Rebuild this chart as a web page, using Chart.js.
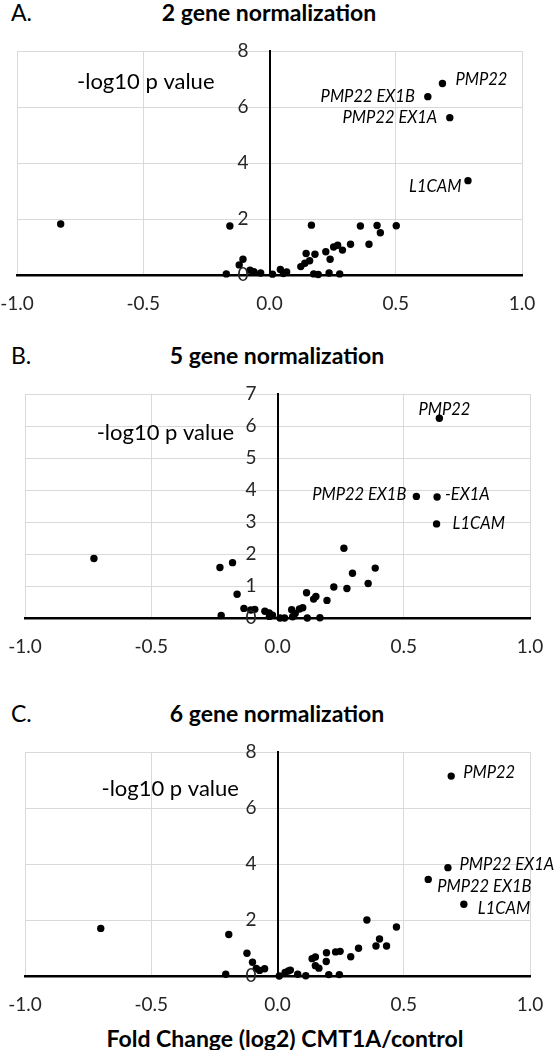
<!DOCTYPE html>
<html>
<head>
<meta charset="utf-8">
<script src="https://cdn.jsdelivr.net/npm/chart.js@4.4.1/dist/chart.umd.min.js"></script>
<style>
  html, body { margin: 0; padding: 0; background: #fff; }
  body { width: 557px; height: 1050px; position: relative; overflow: hidden; font-family: Lato, "Open Sans", sans-serif; }
  .lbl { position: absolute; color: #000; white-space: nowrap; }
  .letter { font-size: 23px; line-height: 28px; }
  .title { font-size: 23px; font-weight: bold; line-height: 28px; transform: translateX(-50%); }
  canvas { position: absolute; left: 0; }
</style>
</head>
<body>
<div class="lbl letter" style="left:11px; top:-2px;">A.</div>
<div class="lbl title" style="left:269px; top:-2px;">2 gene normalization</div>
<div class="lbl letter" style="left:11px; top:341px;">B.</div>
<div class="lbl title" style="left:277px; top:341px;">5 gene normalization</div>
<div class="lbl letter" style="left:11px; top:699px;">C.</div>
<div class="lbl title" style="left:277px; top:699px;">6 gene normalization</div>
<div class="lbl title" style="left:285px; top:1024px;">Fold Change (log2) CMT1A/control</div>

<canvas id="cA" width="557" height="300" style="top:30px"></canvas>
<canvas id="cB" width="557" height="300" style="top:370px"></canvas>
<canvas id="cC" width="557" height="290" style="top:730px"></canvas>

<script>
// ---------------- DATA ----------------
const xTicks = [-1.0, -0.5, 0.0, 0.5, 1.0];

// Panel A: 2 gene normalization
const aFold = [-0.827, -0.157, -0.105, -0.12, -0.171, -0.077, -0.062, -0.035, 0.012, 0.043, 0.055, 0.068,
  0.166, 0.124, 0.14, 0.159, 0.145, 0.18, 0.175, 0.193, 0.223, 0.24, 0.254, 0.27, 0.289, 0.236, 0.278,
  0.321, 0.36, 0.394, 0.426, 0.439, 0.502];
const aLogP = [1.82, 1.75, 0.56, 0.36, 0.04, 0.17, 0.12, 0.07, 0.03, 0.2, 0.05, 0.11,
  1.78, 0.3, 0.42, 0.51, 0.77, 0.74, 0.04, 0.02, 0.83, 0.56, 1.0, 1.06, 0.89, 0.07, 0.04,
  1.1, 1.75, 1.1, 1.77, 1.51, 1.76];
const aHitNames = ["PMP22", "PMP22 EX1B", "PMP22 EX1A", "L1CAM"];
const aHitFold = [0.685, 0.627, 0.714, 0.786];
const aHitLogP = [6.84, 6.37, 5.62, 3.37];
const aYTicks = [0, 2, 4, 6, 8];

// Panel B: 5 gene normalization
const bFold = [-0.727, -0.228, -0.178, -0.16, -0.223, -0.133, -0.106, -0.09, -0.05, -0.033, -0.032, -0.02,
  0.01, 0.028, 0.056, 0.06, 0.07, 0.087, 0.1, 0.115, 0.118, 0.143, 0.152, 0.168, 0.196, 0.223, 0.263,
  0.275, 0.297, 0.359, 0.387];
const bLogP = [1.86, 1.58, 1.73, 0.74, 0.08, 0.3, 0.25, 0.27, 0.21, 0.16, 0.05, 0.09,
  0.0, 0.0, 0.26, 0.04, 0.14, 0.28, 0.32, 0.79, 0.0, 0.59, 0.67, 0.01, 0.55, 0.97, 2.18,
  0.92, 1.4, 1.08, 1.56];
const bHitNames = ["PMP22", "PMP22 EX1B", "-EX1A", "L1CAM"];
const bHitFold = [0.641, 0.55, 0.632, 0.63];
const bHitLogP = [6.24, 3.8, 3.78, 2.94];
const bYTicks = [0, 1, 2, 3, 4, 5, 6, 7];

// Panel C: 6 gene normalization
const cFold = [-0.70, -0.193, -0.205, -0.121, -0.099, -0.084, -0.071, -0.051, 0.007, 0.03, 0.043, 0.051,
  0.08, 0.112, 0.137, 0.15, 0.15, 0.164, 0.193, 0.194, 0.203, 0.23, 0.248, 0.245, 0.29, 0.321,
  0.354, 0.39, 0.404, 0.432, 0.471];
const cLogP = [1.70, 1.48, 0.06, 0.81, 0.49, 0.27, 0.2, 0.26, 0.0, 0.13, 0.18, 0.21,
  0.06, 0.01, 0.62, 0.68, 0.37, 0.28, 0.52, 0.83, 0.05, 0.86, 0.88, 0.05, 0.69, 0.99,
  2.0, 1.07, 1.32, 1.07, 1.75];
const cHitNames = ["PMP22", "PMP22 EX1A", "PMP22 EX1B", "L1CAM"];
const cHitFold = [0.688, 0.675, 0.597, 0.738];
const cHitLogP = [7.14, 3.87, 3.45, 2.56];
const cYTicks = [0, 2, 4, 6, 8];

const yAxisLabel = "-log10 p value";

// ---------------- STYLE / PLACEMENT ----------------
const FONT = "Lato, 'Open Sans', sans-serif";
const GRID = "#d9d9d9";
const TICK_COLOR = "#262626";

const annotPlugin = {
  id: "annot",
  afterDraw(chart, args, opts) {
    const ctx = chart.ctx;
    const xs = chart.scales.x, ys = chart.scales.y;
    const x0 = xs.getPixelForValue(0);
    ctx.save();
    // y tick labels beside the crossing axis
    ctx.fillStyle = TICK_COLOR;
    ctx.font = "19px " + FONT;
    ctx.textAlign = "right";
    ctx.textBaseline = "middle";
    opts.yTicks.forEach(v => {
      ctx.fillText(String(v), x0 - opts.tickGap, ys.getPixelForValue(v));
    });
    // axis label inside the plot
    ctx.fillStyle = "#000";
    ctx.font = opts.axisFont + " " + FONT;
    ctx.textAlign = "center";
    ctx.fillText(yAxisLabel, xs.getPixelForValue(opts.axisLabelAt[0]), ys.getPixelForValue(opts.axisLabelAt[1]));
    // gene labels
    ctx.font = "italic 16.5px " + FONT;
    opts.names.forEach((n, i) => {
      const p = opts.place[i];
      ctx.textAlign = p[2];
      ctx.fillText(n, xs.getPixelForValue(opts.fx[i]) + p[0], ys.getPixelForValue(opts.fy[i]) + p[1]);
    });
    ctx.restore();
  }
};

function pts(xv, yv) { return xv.map((x, i) => ({ x: x, y: yv[i] })); }

function makeChart(id, fold, logp, hitFold, hitLogP, hitNames, yTicks, pad, place, axisLabelAt) {
  const ymax = yTicks[yTicks.length - 1];
  const step = yTicks[1] - yTicks[0];
  const ds = (d) => ({ data: d, backgroundColor: "#000", borderColor: "#000", borderWidth: 0,
    pointRadius: 3.7, pointHoverRadius: 3.7, clip: false });
  return new Chart(document.getElementById(id), {
    type: "scatter",
    data: { datasets: [ds(pts(fold, logp)), ds(pts(hitFold, hitLogP))] },
    options: {
      responsive: false, animation: false, devicePixelRatio: 1,
      layout: { padding: pad },
      plugins: {
        legend: { display: false }, tooltip: { enabled: false }, title: { display: false },
        annot: { yTicks: yTicks, tickGap: 21, names: hitNames, fx: hitFold, fy: hitLogP, place: place,
          axisLabelAt: axisLabelAt, axisFont: "22px" }
      },
      scales: {
        x: {
          type: "linear", position: "bottom", min: xTicks[0], max: xTicks[xTicks.length - 1],
          afterBuildTicks(s) { s.ticks = xTicks.map(v => ({ value: v })); },
          ticks: { callback: v => Number(v).toFixed(1), font: { family: FONT, size: 19 }, color: TICK_COLOR, padding: 17, maxRotation: 0 },
          grid: { color: GRID, lineWidth: 1, drawTicks: false },
          border: { display: true, color: "#000", width: 2.5 },
          afterFit(s) { s.height = 35; s.paddingLeft = 0; s.paddingRight = 0; }
        },
        y: {
          type: "linear", position: { x: 0 }, min: 0, max: ymax,
          afterBuildTicks(s) { s.ticks = yTicks.map(v => ({ value: v })); },
          ticks: { display: false, stepSize: step },
          grid: { color: GRID, lineWidth: 1, drawTicks: false },
          border: { display: true, color: "#000", width: 2 },
          afterFit(s) { s.paddingTop = 0; s.paddingBottom = 0; }
        }
      }
    },
    plugins: [annotPlugin]
  });
}

// canvas A spans y 30..330 ; plot 51..275, x 17..522
makeChart("cA", aFold, aLogP, aHitFold, aHitLogP, aHitNames, aYTicks,
  { top: 21, bottom: 20, left: 17, right: 35 },
  [[13, -4, "left"], [-13, 0, "right"], [-12.5, 0, "right"], [-6.5, 6, "right"]],
  [-0.49, 6.9]);

// canvas B spans y 370..670 ; plot 394..618, x 25..530
makeChart("cB", bFold, bLogP, bHitFold, bHitLogP, bHitNames, bYTicks,
  { top: 24, bottom: 17, left: 25, right: 27 },
  [[5, -9, "center"], [-10, -2, "right"], [8, -2, "left"], [16, 0, "left"]],
  [-0.444, 5.79]);

// canvas C spans y 730..1020 ; plot 752..976, x 25..530
makeChart("cC", cFold, cLogP, cHitFold, cHitLogP, cHitNames, cYTicks,
  { top: 22, bottom: 9, left: 25, right: 27 },
  [[12, -3, "left"], [11.5, -2.5, "left"], [9, 7.5, "left"], [14, 4.5, "left"]],
  [-0.425, 6.69]);
</script>
</body>
</html>
